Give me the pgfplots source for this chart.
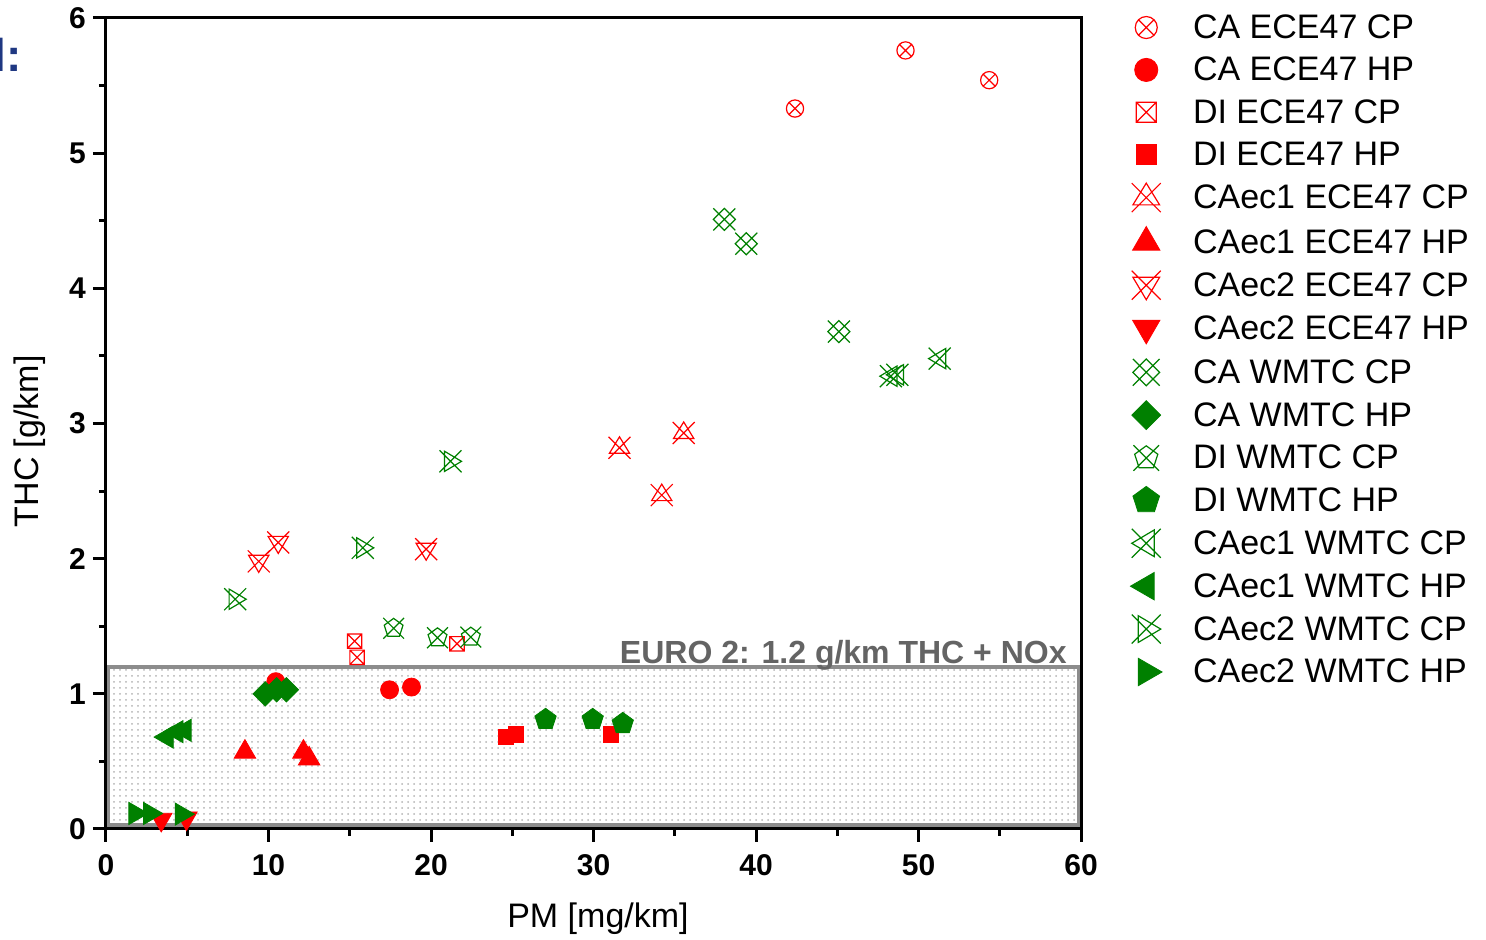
\documentclass[border=0pt]{standalone}
\usepackage{pgfplots}
\pgfplotsset{compat=1.18}
\usepackage{fontspec}
\setmainfont{Liberation Sans}
\usetikzlibrary{patterns.meta}
\definecolor{mygreen}{RGB}{0,128,0}
\definecolor{boxgray}{RGB}{140,140,140}
\definecolor{txtgray}{RGB}{100,100,100}
\definecolor{navy}{RGB}{31,56,130}

% custom open marks
\pgfdeclareplotmark{boxx}{%
  \pgfpathrectanglecorners{\pgfqpoint{-\pgfplotmarksize}{-\pgfplotmarksize}}{\pgfqpoint{\pgfplotmarksize}{\pgfplotmarksize}}%
  \pgfpathmoveto{\pgfqpoint{-\pgfplotmarksize}{-\pgfplotmarksize}}\pgfpathlineto{\pgfqpoint{\pgfplotmarksize}{\pgfplotmarksize}}%
  \pgfpathmoveto{\pgfqpoint{-\pgfplotmarksize}{\pgfplotmarksize}}\pgfpathlineto{\pgfqpoint{\pgfplotmarksize}{-\pgfplotmarksize}}%
  \pgfusepathqstroke}
\def\markX{%
  \pgfpathmoveto{\pgfqpoint{-\pgfplotmarksize}{-\pgfplotmarksize}}\pgfpathlineto{\pgfqpoint{\pgfplotmarksize}{\pgfplotmarksize}}%
  \pgfpathmoveto{\pgfqpoint{-\pgfplotmarksize}{\pgfplotmarksize}}\pgfpathlineto{\pgfqpoint{\pgfplotmarksize}{-\pgfplotmarksize}}}
\pgfdeclareplotmark{triUX}{%
  \markX
  \pgfpathmoveto{\pgfqpoint{0pt}{\pgfplotmarksize}}%
  \pgfpathlineto{\pgfqpoint{0.92\pgfplotmarksize}{-0.5\pgfplotmarksize}}%
  \pgfpathlineto{\pgfqpoint{-0.92\pgfplotmarksize}{-0.5\pgfplotmarksize}}%
  \pgfpathclose
  \pgfusepathqstroke}
\pgfdeclareplotmark{triDX}{%
  \markX
  \pgfpathmoveto{\pgfqpoint{0pt}{-\pgfplotmarksize}}%
  \pgfpathlineto{\pgfqpoint{0.92\pgfplotmarksize}{0.55\pgfplotmarksize}}%
  \pgfpathlineto{\pgfqpoint{-0.92\pgfplotmarksize}{0.55\pgfplotmarksize}}%
  \pgfpathclose
  \pgfusepathqstroke}
\pgfdeclareplotmark{triLX}{%
  \markX
  \pgfpathmoveto{\pgfqpoint{-\pgfplotmarksize}{0pt}}%
  \pgfpathlineto{\pgfqpoint{0.55\pgfplotmarksize}{0.92\pgfplotmarksize}}%
  \pgfpathlineto{\pgfqpoint{0.55\pgfplotmarksize}{-0.92\pgfplotmarksize}}%
  \pgfpathclose
  \pgfusepathqstroke}
\pgfdeclareplotmark{triRX}{%
  \markX
  \pgfpathmoveto{\pgfqpoint{\pgfplotmarksize}{0pt}}%
  \pgfpathlineto{\pgfqpoint{-0.55\pgfplotmarksize}{0.92\pgfplotmarksize}}%
  \pgfpathlineto{\pgfqpoint{-0.55\pgfplotmarksize}{-0.92\pgfplotmarksize}}%
  \pgfpathclose
  \pgfusepathqstroke}
\pgfdeclareplotmark{diamX}{%
  \markX
  \pgfpathmoveto{\pgfqpoint{0pt}{\pgfplotmarksize}}%
  \pgfpathlineto{\pgfqpoint{\pgfplotmarksize}{0pt}}%
  \pgfpathlineto{\pgfqpoint{0pt}{-\pgfplotmarksize}}%
  \pgfpathlineto{\pgfqpoint{-\pgfplotmarksize}{0pt}}%
  \pgfpathclose
  \pgfusepathqstroke}
\pgfdeclareplotmark{pentX}{%
  \markX
  \pgfpathmoveto{\pgfqpointpolar{90}{0.95\pgfplotmarksize}}%
  \pgfpathlineto{\pgfqpointpolar{18}{0.95\pgfplotmarksize}}%
  \pgfpathlineto{\pgfqpointpolar{-54}{0.95\pgfplotmarksize}}%
  \pgfpathlineto{\pgfqpointpolar{-126}{0.95\pgfplotmarksize}}%
  \pgfpathlineto{\pgfqpointpolar{162}{0.95\pgfplotmarksize}}%
  \pgfpathclose
  \pgfusepathqstroke}

\pgfplotsset{
  sA/.style={only marks, red, mark=otimes, mark options={line width=0.6pt}},
  sB/.style={only marks, red, mark=*},
  sC/.style={only marks, red, mark=boxx, mark options={line width=0.6pt}},
  sD/.style={only marks, red, mark=square*},
  sE/.style={only marks, red, mark=triUX, mark options={line width=0.6pt}},
  sF/.style={only marks, red, mark=triangle*},
  sG/.style={only marks, red, mark=triDX, mark options={line width=0.6pt}},
  sH/.style={only marks, red, mark=triangle*, mark options={rotate=180}},
  sI/.style={only marks, mygreen, mark=diamX, mark options={line width=0.6pt}},
  sJ/.style={only marks, mygreen, mark=square*, mark options={rotate=45}},
  sK/.style={only marks, mygreen, mark=pentX, mark options={line width=0.6pt}},
  sL/.style={only marks, mygreen, mark=pentagon*},
  sM/.style={only marks, mygreen, mark=triLX, mark options={line width=0.6pt}},
  sN/.style={only marks, mygreen, mark=triangle*, mark options={rotate=90}},
  sO/.style={only marks, mygreen, mark=triRX, mark options={line width=0.6pt}},
  sP/.style={only marks, mygreen, mark=triangle*, mark options={rotate=-90}},
}

\begin{document}
\begin{tikzpicture}
\begin{axis}[
  name=ax,
  scale only axis,
  width=487.5pt, height=405.5pt,
  xmin=0, xmax=60, ymin=0, ymax=6,
  xtick={0,10,...,60}, minor xtick={5,15,...,55},
  ytick={0,1,...,6}, minor ytick={0.5,1.5,...,5.5},
  tick align=outside, xtick pos=bottom, ytick pos=left,
  major tick length=6.5pt, minor tick length=3.5pt,
  axis line style={line width=1.5pt, black},
  every tick/.style={line width=1.5pt, black},
  axis on top,
  clip=false,
  ticklabel style={font=\fontsize{15}{15}\selectfont\bfseries},
  xticklabel style={yshift=-2.5pt},
  /pgf/number format/assume math mode=true,
  xlabel={PM [mg/km]},
  ylabel={THC [g/km]},
  xlabel style={at={(axis description cs:0.5046,-0.110)}, anchor=center, font=\fontsize{17}{17}\selectfont},
  ylabel style={at={(axis description cs:-0.078,0.478)}, anchor=center, font=\fontsize{17}{17}\selectfont},
  legend cell align=left,
  legend style={at={(axis description cs:1.0503,1.006)}, anchor=north west, draw=none, fill=none, inner sep=0pt,
    font=\fontsize{17}{17}\selectfont, row sep=7.2pt,
    nodes={inner xsep=2pt, inner ysep=0pt, text height=12.5pt, text depth=1.5pt},
    /tikz/every odd column/.append style={column sep=13.5pt}},
]
\draw[boxgray, line width=2pt, pattern={Dots[distance=3pt,radius=0.5pt]}, pattern color=black!30]
  (axis cs:0.1,0.03) rectangle (axis cs:59.9,1.2);
\node[anchor=base east, font=\fontsize{16}{16}\selectfont\bfseries, text=txtgray, inner sep=0pt]
  at (axis cs:59.14,1.228) {EURO 2: 1.2 g/km THC + NOx};

% CA ECE47 CP
\addplot[sA, mark size=4.3pt, forget plot] coordinates {(42.4,5.33) (49.2,5.76) (54.35,5.54)};
% DI ECE47 CP
\addplot[sC, mark size=3.6pt, forget plot] coordinates {(15.3,1.39) (15.45,1.27) (21.6,1.37)};
% CAec1 ECE47 CP
\addplot[sE, mark size=5.5pt, forget plot] coordinates {(31.6,2.82) (35.55,2.93) (34.2,2.47)};
% CAec2 ECE47 CP
\addplot[sG, mark size=5.5pt, forget plot] coordinates {(9.4,1.98) (10.6,2.12) (19.7,2.07)};
% CA WMTC CP
\addplot[sI, mark size=5.5pt, forget plot] coordinates {(38.05,4.51) (39.4,4.33) (45.1,3.68)};
% DI WMTC CP
\addplot[sK, mark size=5.2pt, forget plot] coordinates {(17.7,1.485) (20.4,1.415) (22.45,1.42)};
% CAec1 WMTC CP
\addplot[sM, mark size=5.5pt, forget plot] coordinates {(48.3,3.35) (48.7,3.36) (51.3,3.48)};
% CAec2 WMTC CP
\addplot[sO, mark size=5.5pt, forget plot] coordinates {(7.95,1.70) (15.8,2.08) (21.2,2.72)};
% CA ECE47 HP
\addplot[sB, mark size=4.5pt, forget plot] coordinates {(10.45,1.09) (17.45,1.03) (18.8,1.05)};
% DI ECE47 HP
\addplot[sD, mark size=3.8pt, forget plot] coordinates {(24.6,0.68) (25.2,0.70) (31.05,0.70)};
% CAec1 ECE47 HP
\addplot[sF, mark size=6.2pt, forget plot] coordinates {(8.55,0.57) (12.15,0.57) (12.5,0.52)};
% CAec2 ECE47 HP
\addplot[sH, mark size=6.2pt, forget plot] coordinates {(3.4,0.07) (4.95,0.08)};
% CA WMTC HP
\addplot[sJ, mark size=4.3pt, forget plot] coordinates {(9.8,1.0) (10.5,1.03) (11.1,1.03)};
% DI WMTC HP
\addplot[sL, mark size=5.6pt, forget plot] coordinates {(27.05,0.81) (29.95,0.81) (31.8,0.78)};
% CAec1 WMTC HP
\addplot[sN, mark size=6.4pt, forget plot] coordinates {(3.75,0.68) (4.35,0.72) (4.85,0.73)};
% CAec2 WMTC HP
\addplot[sP, mark size=6.4pt, forget plot] coordinates {(1.8,0.115) (2.7,0.115) (4.65,0.11)};

\addlegendimage{sA, mark size=5.5pt}\addlegendentry{CA ECE47 CP}
\addlegendimage{sB, mark size=5.8pt}\addlegendentry{CA ECE47 HP}
\addlegendimage{sC, mark size=5pt}\addlegendentry{DI ECE47 CP}
\addlegendimage{sD, mark size=5pt}\addlegendentry{DI ECE47 HP}
\addlegendimage{sE, mark size=7.25pt}\addlegendentry{CAec1 ECE47 CP}
\addlegendimage{sF, mark size=7.9pt}\addlegendentry{CAec1 ECE47 HP}
\addlegendimage{sG, mark size=7.25pt}\addlegendentry{CAec2 ECE47 CP}
\addlegendimage{sH, mark size=7.9pt}\addlegendentry{CAec2 ECE47 HP}
\addlegendimage{sI, mark size=6.7pt}\addlegendentry{CA WMTC CP}
\addlegendimage{sJ, mark size=5.1pt}\addlegendentry{CA WMTC HP}
\addlegendimage{sK, mark size=6.4pt}\addlegendentry{DI WMTC CP}
\addlegendimage{sL, mark size=7pt}\addlegendentry{DI WMTC HP}
\addlegendimage{sM, mark size=7.25pt}\addlegendentry{CAec1 WMTC CP}
\addlegendimage{sN, mark size=7.9pt}\addlegendentry{CAec1 WMTC HP}
\addlegendimage{sO, mark size=7.25pt}\addlegendentry{CAec2 WMTC CP}
\addlegendimage{sP, mark size=7.9pt}\addlegendentry{CAec2 WMTC HP}
\end{axis}
\node[anchor=base east, text=navy, font=\fontsize{23}{23}\selectfont\bfseries, inner sep=0pt]
  at ([xshift=-42pt,yshift=378.5pt]ax.south west) {l:};
\pgfresetboundingbox
\path ([xshift=-53pt,yshift=-55.5pt]ax.south west) rectangle ([xshift=690pt,yshift=414.5pt]ax.south west);
\end{tikzpicture}
\end{document}
